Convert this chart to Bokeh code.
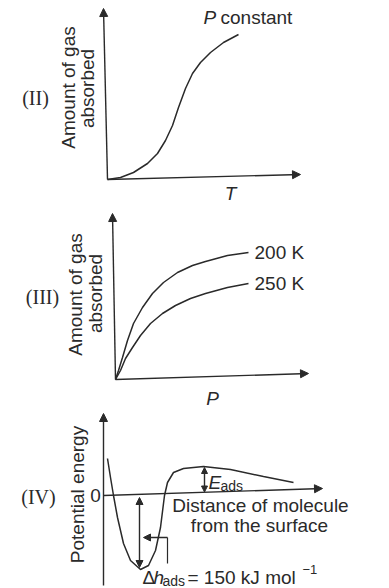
import math
from bokeh.plotting import figure
from bokeh.layouts import column
from bokeh.models import Range1d, Arrow, NormalHead, Label
from bokeh.embed import file_html
from bokeh.resources import INLINE

# ---------------- data (arbitrary units) ----------------
# Panel II: amount of gas absorbed vs T at constant P
II_T = [0, 13, 26, 40, 50, 58, 65, 71, 78, 85, 93, 103, 116, 131]
II_amount = [0, 2, 7, 16, 26, 39, 54, 72, 91, 106, 117, 127, 137, 145]

# Panel III: amount of gas absorbed vs P at two temperatures
III_P_200 = [0, 3, 7, 12, 18, 27, 37, 48, 62, 77, 90, 112, 133]
III_amt_200 = [0, 9, 22, 39, 56, 72, 86, 97, 107, 114, 118, 124, 127]
III_P_250 = [0, 5, 10, 17, 25, 35, 47, 60, 75, 90, 112, 133]
III_amt_250 = [0, 9, 21, 32, 44, 56, 66, 74, 81, 86, 92, 96]
III_labels = ["200 K", "250 K"]

# Panel IV: potential energy vs distance of molecule from the surface
IV_dist = [4, 7, 10, 14, 20, 27, 37, 45, 52, 57, 61, 64, 70, 80, 100, 127, 160, 190]
IV_energy = [37, 18, 0, -22, -48, -65, -74, -70, -55, -32, 0, 13, 23, 27, 29, 26, 19, 13]

# ---------------- style ----------------
BG = "#ffffff"
INK = "#2a2a2a"
SANS = "Liberation Sans"
SERIF = "Liberation Serif"
W = 389


def make_fig(h, xr, yr):
    p = figure(width=W, height=h, x_range=Range1d(*xr), y_range=Range1d(*yr),
               output_backend="svg", toolbar_location=None,
               x_axis_type=None, y_axis_type=None, min_border=0,
               outline_line_color=None, background_fill_color=BG,
               border_fill_color=BG)
    p.xgrid.visible = False
    p.ygrid.visible = False
    return p


def arrow(p, x0, y0, x1, y1, both=False, size=8):
    head = lambda: NormalHead(size=size, fill_color=INK, line_color=INK, line_width=1)
    p.add_layout(Arrow(x_start=x0, y_start=y0, x_end=x1, y_end=y1,
                       end=head(), start=head() if both else None,
                       line_color=INK, line_width=1.4))


def lab(p, x, y, text, size=19, style="normal", align="left", baseline="alphabetic",
        angle=0.0, font=SANS):
    p.add_layout(Label(x=x, y=y, text=text, text_font=font,
                       text_font_size=f"{size}px", text_font_style=style,
                       text_align=align, text_baseline=baseline, angle=angle,
                       text_color=INK))


# ---------------- Panel II ----------------
p2 = make_fig(208, (-107, 282), (-29, 179))
arrow(p2, 0, 0, 193, 5)
arrow(p2, 0, 0, -4, 171)
p2.line(II_T, II_amount, line_color=INK, line_width=1.5)
lab(p2, 96, 162, "P", style="italic")
lab(p2, 113, 162, "constant")
lab(p2, 123, -14, "T", style="italic", align="center", baseline="middle")
lab(p2, -72, 82, "(II)", size=20, font=SERIF, align="center", baseline="middle")
lab(p2, -39, 92, "Amount of gas", align="center", baseline="middle", angle=math.pi / 2)
lab(p2, -20, 91, "absorbed", align="center", baseline="middle", angle=math.pi / 2)

# ---------------- Panel III ----------------
p3 = make_fig(200, (-115, 274), (-29, 171))
arrow(p3, 0, 0, 193, 6)
arrow(p3, 0, 0, -3, 166)
p3.line(III_P_200, III_amt_200, line_color=INK, line_width=1.5)
p3.line(III_P_250, III_amt_250, line_color=INK, line_width=1.5)
lab(p3, III_P_200[-1] + 6, III_amt_200[-1], III_labels[0], baseline="middle")
lab(p3, III_P_250[-1] + 6, III_amt_250[-1], III_labels[1], baseline="middle")
lab(p3, 97, -19, "P", style="italic", align="center", baseline="middle")
lab(p3, -73, 83, "(III)", size=20, font=SERIF, align="center", baseline="middle")
lab(p3, -40, 85, "Amount of gas", align="center", baseline="middle", angle=math.pi / 2)
lab(p3, -20, 86, "absorbed", align="center", baseline="middle", angle=math.pi / 2)

# ---------------- Panel IV ----------------
p4 = make_fig(180, (-103, 286), (-93, 87))
arrow(p4, 0, 0, 219, 7)
arrow(p4, 0, -90, 0, 82)
p4.line(IV_dist, IV_energy, line_color=INK, line_width=1.5)
# depth (well minimum) and barrier (maximum after the well)
min_i = IV_energy.index(min(IV_energy))
barrier = max(IV_energy[min_i:])
peak_i = IV_energy.index(barrier, min_i)
# E_ads double arrow (from the top of the barrier down to the axis)
arrow(p4, IV_dist[peak_i] + 1, barrier - 1, IV_dist[peak_i] + 1, 3.5, both=True, size=6)
# depth double arrow
arrow(p4, IV_dist[min_i] - 1, -2, IV_dist[min_i] - 1, min(IV_energy) + 2, both=True, size=7)
# pointer to the depth arrow with bracket
arrow(p4, 64, -42, 40, -42, size=7)
p4.line([64, 64], [-42, -68], line_color=INK, line_width=1.2)

lab(p4, -8, 0, "0", align="center", baseline="middle")
lab(p4, -65, -1, "(IV)", size=20, font=SERIF, align="center", baseline="middle")
lab(p4, -26, 1, "Potential energy", align="center", baseline="middle", angle=math.pi / 2)
lab(p4, 157, -10, "Distance of molecule", align="center", baseline="middle")
lab(p4, 156, -30, "from the surface", align="center", baseline="middle")
lab(p4, 105, 13, "E", style="italic")
lab(p4, 117, 10, "ads", size=14)
lab(p4, 39, -82, "\u0394")
lab(p4, 50, -82, "h", style="italic")
lab(p4, 59, -85, "ads", size=14)
lab(p4, 84, -82, "= 150 kJ mol")
lab(p4, 199, -74, "\u22121", size=13)

layout = column(p2, p3, p4, spacing=0)
open("out.html", "w").write(file_html(layout, INLINE))
